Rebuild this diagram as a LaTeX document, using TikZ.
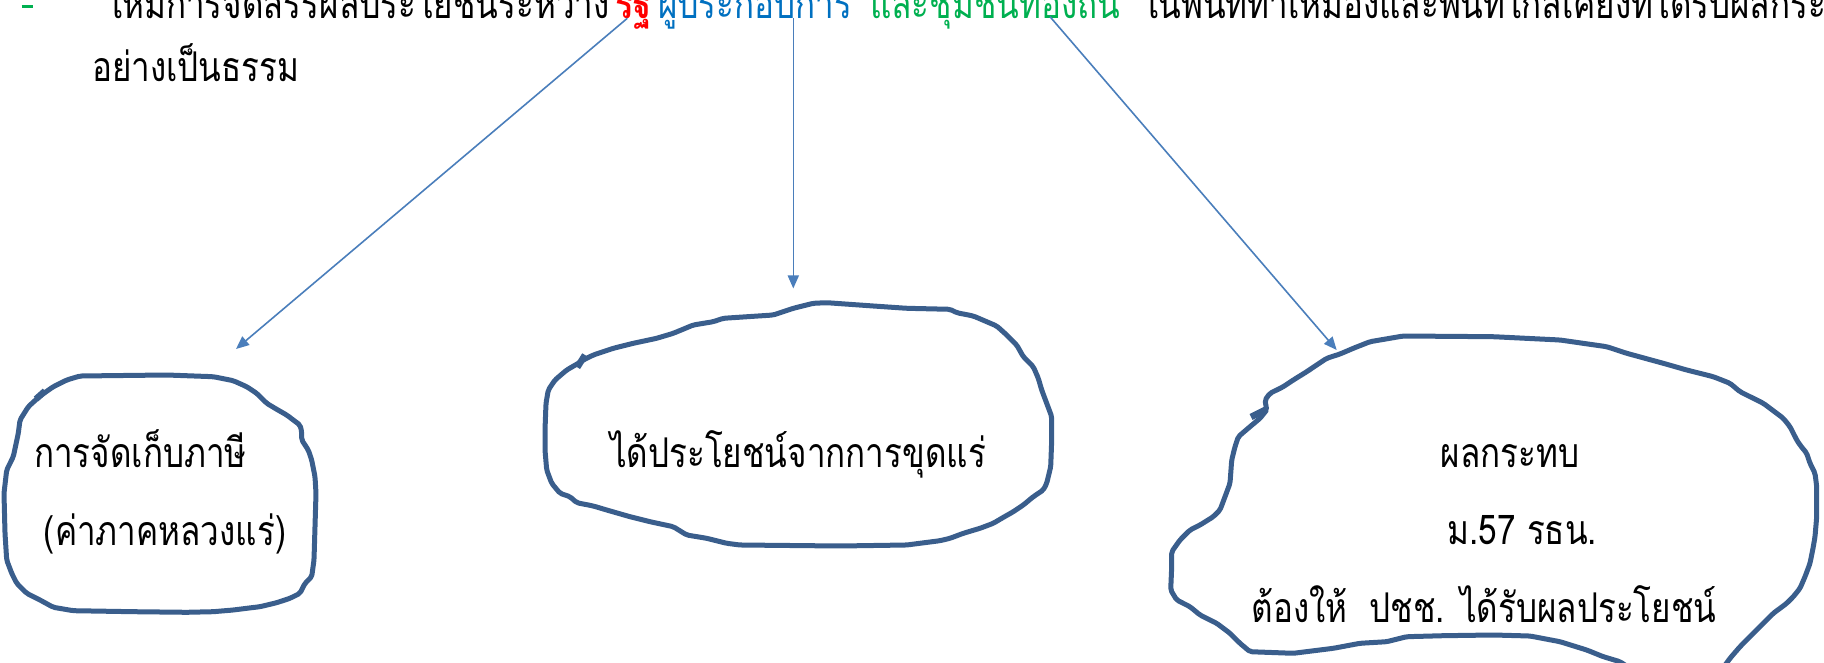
\documentclass[tikz,border=0pt]{standalone}
\usepackage{fontspec}
\setmainfont{Liberation Serif}
\newfontfamily\thai[Script=Thai,FakeStretch=0.81]{Loma}
\usetikzlibrary{arrows.meta}
\definecolor{blobc}{RGB}{58,94,140}
\definecolor{arrc}{RGB}{74,126,187}
\definecolor{thred}{RGB}{255,0,0}
\definecolor{thblue}{RGB}{0,112,192}
\definecolor{thgreen}{RGB}{0,176,80}
\begin{document}
\begin{tikzpicture}[x=1pt,y=-1pt,
  txt/.style={inner sep=0pt, font=\thai\fontsize{41}{48}\selectfont},
  blob/.style={draw=blobc, line width=5pt, line join=round, line cap=round, rounded corners=2pt},
  tick/.style={draw=blobc, line width=6.5pt},
  conn/.style={draw=arrc, line width=1.6pt, -{Triangle[length=13pt,width=11pt]}}
]
\useasboundingbox (0,0) rectangle (1824,663);
\clip (0,0) rectangle (1824,663);
% bullet dash
\draw[thgreen, line width=3pt] (21.7,6.3) coordinate (d1) -- (33.3,6.3) coordinate (d2);
% first line
\node[txt, anchor=base east] (t1) at (610,18.3) {ให้มีการจัดสรรผลประโยชน์ระหว่าง};
\node[txt, anchor=base west, text=thred, font=\thai\bfseries\fontsize{41}{48}\selectfont] (rat) at (615,18.3) {รัฐ};
\node[txt, anchor=base west, text=thblue] (op) at (658,18.3) {ผู้ประกอบการ};
\node[txt, anchor=base west, text=thgreen] (com) at (870,18.3) {และชุมชนท้องถิ่น};
\node[txt, anchor=base west] (t2) at (1142,18.3) {ในพื้นที่ทำเหมืองและพื้นที่ใกล้เคียงที่ได้รับผลกระทบ};
\node[txt, anchor=base west] (t3) at (92,81.7) {อย่างเป็นธรรม};
% blob 1
\draw[blob] (40,396) -- (53.3,386.7) -- (66.7,380) -- (80,376) -- (166.7,375) -- (213.3,376.7) -- (233.3,380.7) -- (246.7,386.7) -- (256.7,393.3) -- (266.7,403.3) -- (276.7,409.3) -- (286.7,415) -- (293.3,420) -- (300,425) -- (301.7,431.7) -- (301.7,440) -- (308.3,450) -- (311.7,460) -- (315,476.7) -- (316,493.3) -- (315,526.7) -- (314,560) -- (311.7,576.7) -- (305,583.3) -- (300,593.3) -- (290,598.3) -- (276.7,602.7) -- (260,606.7) -- (246.7,608.3) -- (233.3,610) -- (213.3,611.7) -- (186.7,612.3) -- (133.3,611.7) -- (73.3,610.7) -- (53.3,607.3) -- (40,600) -- (26.7,593.3) -- (16.7,583.3) -- (11.7,573.3) -- (6.7,560) -- (5,533.3) -- (4,493.3) -- (6.7,470) -- (13.3,456.7) -- (18.3,433.3) -- (20,420) -- (28.3,406.7) -- cycle;
\draw[tick] (36,399) -- (45,391);
% blob 2
\draw[blob] (583.3,360) -- (593.3,355) -- (613.3,348.3) -- (633.3,343.3) -- (656.7,338.3) -- (673.3,333.3) -- (693.3,325) -- (713.3,321.7) -- (723.3,318.3) -- (773.3,315) -- (793.3,308.3) -- (813.3,303.3) -- (826.7,302.7) -- (873.3,306) -- (906.7,308.3) -- (950,309.3) -- (956.7,312.7) -- (973.3,316) -- (986.7,321.7) -- (996.7,326) -- (1006.7,335) -- (1016.7,345) -- (1023.3,356.7) -- (1033.3,366.7) -- (1038.3,378.3) -- (1041.7,390) -- (1046.7,403.3) -- (1051.7,416.7) -- (1051.7,440) -- (1050.7,466.7) -- (1046.7,483.3) -- (1043.3,490) -- (1033.3,496.7) -- (1023.3,505) -- (1013.3,511.7) -- (1001.7,518.3) -- (993.3,523.3) -- (980,528.3) -- (963.3,533.3) -- (950,538.3) -- (940,540.7) -- (906.7,545) -- (840,546) -- (740,545) -- (726.7,543.3) -- (706.7,538.3) -- (686.7,535) -- (673.3,526.7) -- (650,521.7) -- (630,516.7) -- (606.7,510) -- (593.3,506) -- (576.7,502.7) -- (570,496.7) -- (560,493.3) -- (551.7,483.3) -- (546.7,470) -- (545,450) -- (545,430) -- (546,403.3) -- (548.3,390) -- (555,380) -- (566.7,370) -- (578.3,363.3) -- cycle;
\draw[tick] (577.3,367.3) -- (585,355);
% blob 3
\draw[blob] (1266.7,410) -- (1265,400) -- (1270,393.3) -- (1283.3,386.7) -- (1293.3,380) -- (1306.7,371.7) -- (1316.7,365) -- (1326.7,358.3) -- (1340,354) -- (1353.3,348.3) -- (1370,341.7) -- (1403.3,336) -- (1493.3,336.7) -- (1560,340) -- (1606.7,346.7) -- (1626.7,353.3) -- (1663.3,363.3) -- (1686.7,370) -- (1713.3,376.7) -- (1730,383.3) -- (1740,391.7) -- (1763.3,403.3) -- (1783.3,418.3) -- (1790,426.7) -- (1796.7,440) -- (1800,445) -- (1806.7,453.3) -- (1810,463.3) -- (1815,473.3) -- (1816.7,486.7) -- (1816.7,516.7) -- (1815,536.7) -- (1813.3,546.7) -- (1810,563.3) -- (1805,576.7) -- (1800,588.3) -- (1793.3,596.7) -- (1786.7,603.3) -- (1773.3,613.3) -- (1763.3,623.3) -- (1753.3,633.3) -- (1740,646.7) -- (1730,658.3) -- (1718,675) -- (1640,675) -- (1620,661.7) -- (1603.3,656.7) -- (1586.7,650) -- (1560,641.7) -- (1530,636) -- (1493.3,635) -- (1443.3,635.7) -- (1406.7,636.7) -- (1386.7,641.7) -- (1360,643.3) -- (1333.3,648.3) -- (1293.3,653.3) -- (1250,651.7) -- (1240,643.3) -- (1230,633.3) -- (1216.7,623.3) -- (1200,615) -- (1190,606.7) -- (1176.7,600) -- (1170.7,590) -- (1171.7,566.7) -- (1171.7,551.7) -- (1180,540) -- (1190,530) -- (1200,525) -- (1213.3,516.7) -- (1220,510) -- (1225,496.7) -- (1230,483.3) -- (1231.7,460) -- (1235,446.7) -- (1238.3,436.7) -- (1250,426.7) -- (1260,418.3) -- cycle;
\draw[tick] (1251,417) -- (1267,409);
% blob texts
\node[txt, anchor=base] (b1a) at (140.5,467) {การจัดเก็บภาษี};
\node[txt, anchor=base] (b1b) at (165,545) {(ค่าภาคหลวงแร่)};
\node[txt, anchor=base] (b2a) at (798,467) {ได้ประโยชน์จากการขุดแร่};
\node[txt, anchor=base] (b3a) at (1510,467) {ผลกระทบ};
\node[txt, anchor=base] (b3b) at (1522.5,544) {ม.57 รธน.};
\node[txt, anchor=base] (b3c) at (1484,622) {ต้องให้\ \ ปชช. ได้รับผลประโยชน์};
% connectors
\coordinate (s1) at (627.3,18.3);
\coordinate (e1) at (236,349);
\coordinate (s2) at (793.3,18.3);
\coordinate (e2) at (793.3,288.5);
\coordinate (s3) at (1050,16.7);
\coordinate (e3) at (1336.7,350);
\draw[conn] (s1) -- (e1);
\draw[conn] (s2) -- (e2);
\draw[conn] (s3) -- (e3);
\end{tikzpicture}
\end{document}
